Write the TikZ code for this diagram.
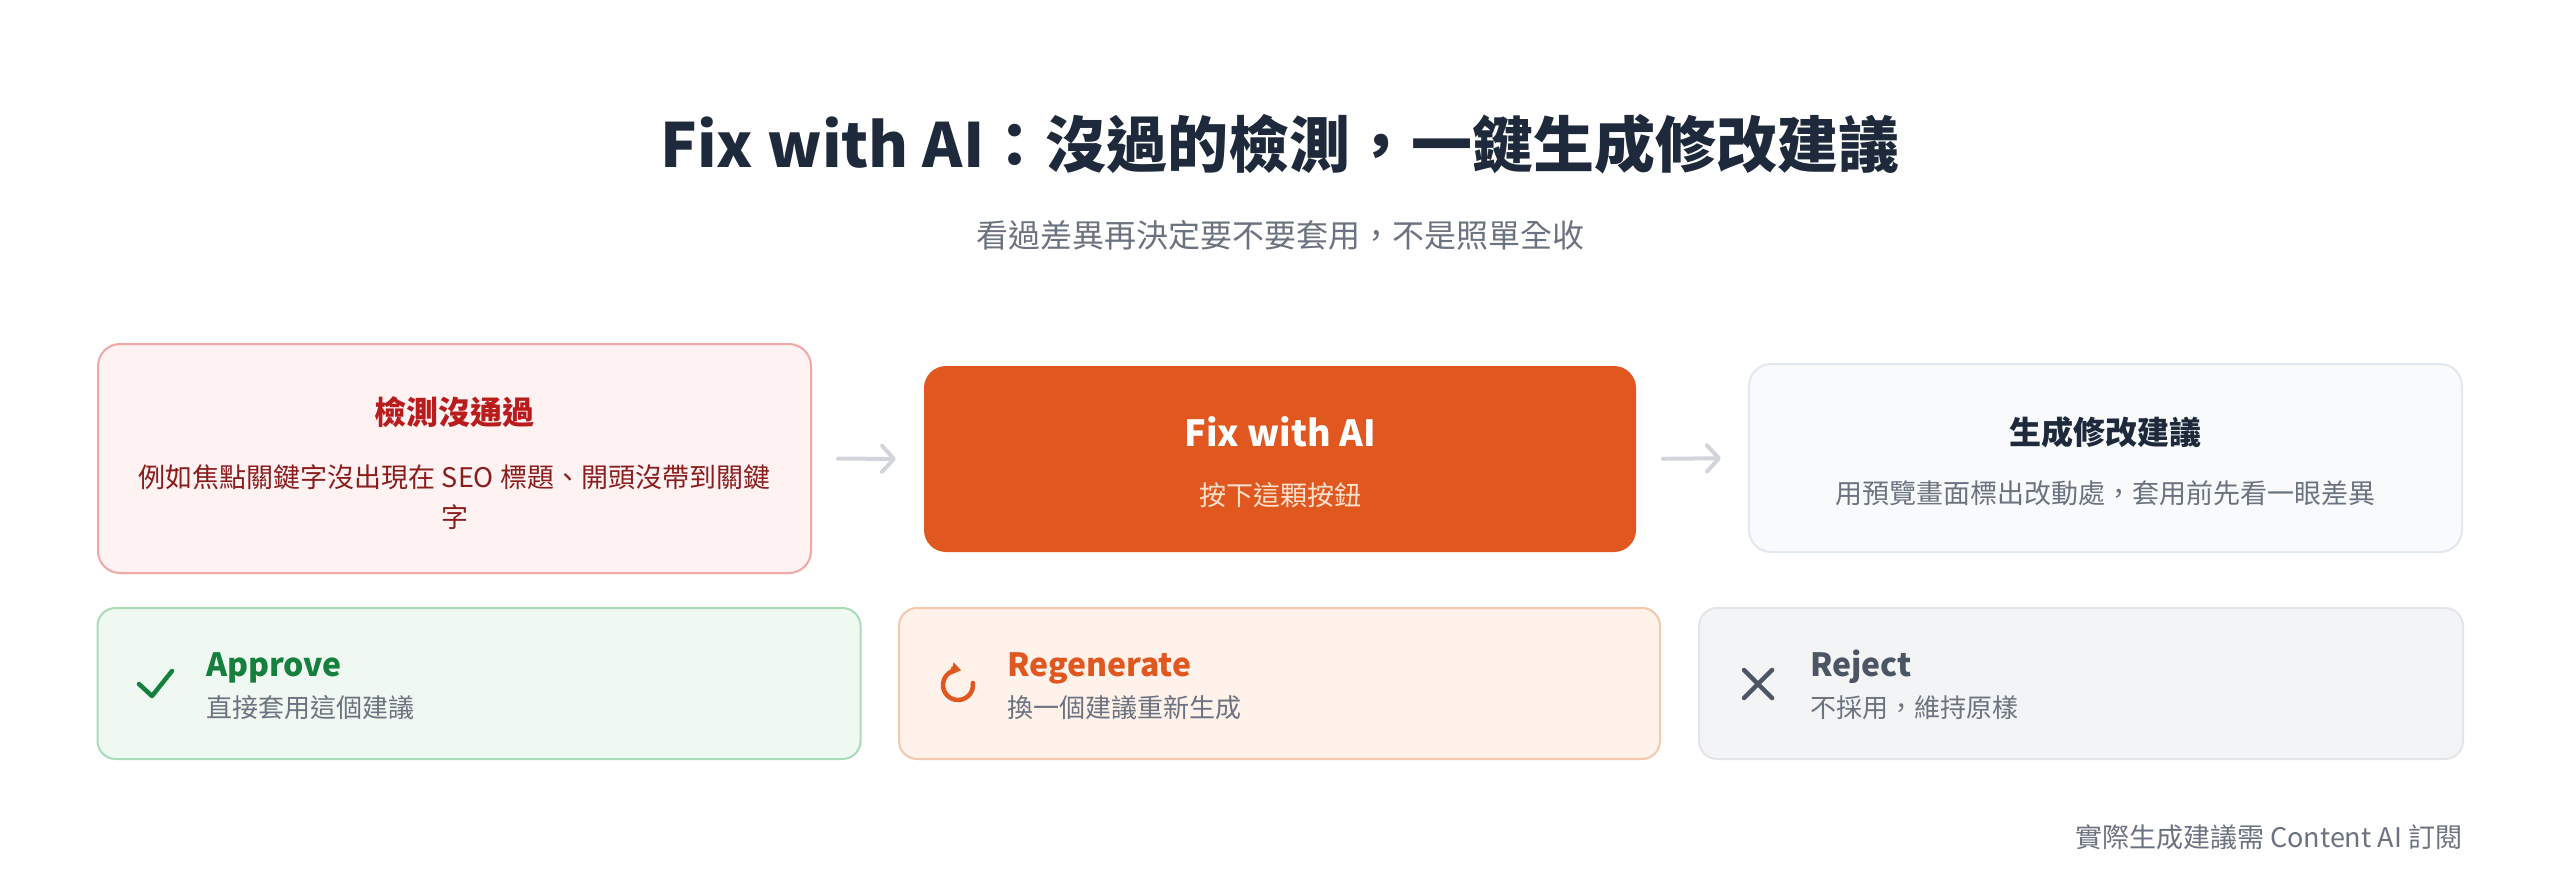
\documentclass[tikz,border=0pt]{standalone}
\usepackage{fontspec}
\setmainfont{Noto Sans CJK TC}
\usetikzlibrary{arrows.meta}
\definecolor{titlec}{HTML}{1E293B}
\definecolor{subc}{HTML}{6B7280}
\definecolor{bafill}{HTML}{FEF2F2}
\definecolor{badraw}{HTML}{F2A7A7}
\definecolor{batitle}{HTML}{B91C1C}
\definecolor{batext}{HTML}{8B1D1D}
\definecolor{orangec}{HTML}{E0581F}
\definecolor{bbtext}{HTML}{FFE0CC}
\definecolor{bcfill}{HTML}{F8FAFC}
\definecolor{bcdraw}{HTML}{E2E8F0}
\definecolor{arrowc}{HTML}{D1D5DB}
\definecolor{okfill}{HTML}{EFF9F2}
\definecolor{okdraw}{HTML}{A9DAB9}
\definecolor{okc}{HTML}{15803D}
\definecolor{regfill}{HTML}{FFF2EA}
\definecolor{regdraw}{HTML}{F5C7AC}
\definecolor{rejfill}{HTML}{F3F4F6}
\definecolor{rejdraw}{HTML}{E3E5E8}
\definecolor{rejc}{HTML}{4B5563}
\begin{document}
\begin{tikzpicture}[x=1pt,y=-1pt,
  every node/.style={inner sep=0pt, outer sep=0pt},
  card/.style={rounded corners=22pt, line width=2pt},
  smallcard/.style={rounded corners=18pt, line width=2pt},
  boxtitle/.style={font=\fontsize{32}{38}\selectfont\bfseries},
  boxtext/.style={font=\fontsize{27}{40}\selectfont, align=center},
  opttitle/.style={anchor=base west, font=\fontsize{32}{38}\selectfont\bfseries},
  opttext/.style={anchor=west, font=\fontsize{26}{32}\selectfont, text=subc},
  flowarrow/.style={draw=arrowc, line width=4pt, line cap=round,
    -{Straight Barb[length=12pt, width=26pt, round]}, shorten <=27pt, shorten >=28pt},
  icon/.style={line width=4.5pt, line cap=round, line join=round}
]
\useasboundingbox (0,0) rectangle (2560,871);
\fill[white] (0,0) rectangle (2560,871);

% heading
\node[font=\fontsize{61}{70}\selectfont\bfseries, text=titlec] (title) at (1280,144) {Fix with AI：沒過的檢測，一鍵生成修改建議};
\node[font=\fontsize{32}{38}\selectfont, text=subc] (subtitle) at (1280,235) {看過差異再決定要不要套用，不是照單全收};

% top row
\node[card, fill=bafill, draw=badraw, minimum width=713pt, minimum height=229pt] (b1) at (454.5,458.5) {};
\node[boxtitle, text=batitle] (b1t) at (454.5,412) {檢測沒通過};
\node[boxtext, text=batext] (b1d) at (454.5,497) {例如焦點關鍵字沒出現在 SEO 標題、開頭沒帶到關鍵\\字};

\node[card, fill=orangec, minimum width=712pt, minimum height=186pt] (b2) at (1280,459) {};
\node[font=\fontsize{36}{42}\selectfont\bfseries, text=white] (b2t) at (1280,432) {Fix with AI};
\node[boxtext, text=bbtext] (b2d) at (1280,495) {按下這顆按鈕};

\node[card, fill=bcfill, draw=bcdraw, minimum width=713pt, minimum height=188pt] (b3) at (2105.5,458) {};
\node[boxtitle, text=titlec] (b3t) at (2105.5,432) {生成修改建議};
\node[boxtext, text=subc] (b3d) at (2105.5,493) {用預覽畫面標出改動處，套用前先看一眼差異};

\draw[flowarrow] (b1.east) -- (b2.west);
\draw[flowarrow] (b2.east) -- (b3.west);

% bottom row
\node[smallcard, fill=okfill, draw=okdraw, minimum width=763pt, minimum height=151pt] (ok) at (479,683.5) {};
\draw[icon, draw=okc] (139,684) -- (152,696) -- (172,671);
\node[opttitle, text=okc] (okt) at (206,676) {Approve};
\node[opttext] (okd) at (206,708) {直接套用這個建議};

\node[smallcard, fill=regfill, draw=regdraw, minimum width=761pt, minimum height=151pt] (reg) at (1279.5,683.5) {};
\coordinate (regc) at (958,685);
\draw[icon, draw=orangec, line join=miter, -{Triangle[length=9pt, width=12pt]}] (regc) ++(-8:15) arc[start angle=-8, end angle=282, radius=15];
\node[opttitle, text=orangec] (regt) at (1007,676) {Regenerate};
\node[opttext] (regd) at (1007,708) {換一個建議重新生成};

\node[smallcard, fill=rejfill, draw=rejdraw, minimum width=764pt, minimum height=151pt] (rej) at (2081,683.5) {};
\draw[icon, draw=rejc] (1744,670) -- ++(28,28);
\draw[icon, draw=rejc] (1772,670) -- ++(-28,28);
\node[opttitle, text=rejc] (rejt) at (1810,676) {Reject};
\node[opttext] (rejd) at (1810,708) {不採用，維持原樣};

% footnote
\node[anchor=east, font=\fontsize{27}{32}\selectfont, text=subc] (note) at (2462,837) {實際生成建議需 Content AI 訂閱};
\end{tikzpicture}
\end{document}
